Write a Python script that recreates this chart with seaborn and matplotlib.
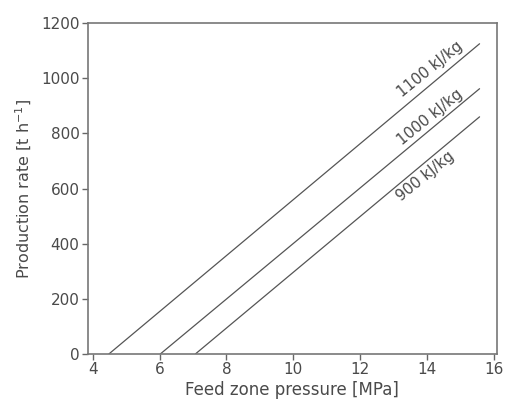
import matplotlib
matplotlib.use("Agg")
import matplotlib.pyplot as plt
import seaborn as sns
import pandas as pd

labels = ["1100 kJ/kg", "1000 kJ/kg", "900 kJ/kg"]
x_1100 = [4.48, 15.58]
y_1100 = [0, 1125]
x_1000 = [6.02, 15.58]
y_1000 = [0, 962]
x_900 = [7.07, 15.58]
y_900 = [0, 860]
label_x = [14.1, 14.1, 13.95]
label_y = [1031, 860, 643]

xticks = [4, 6, 8, 10, 12, 14, 16]
yticks = [0, 200, 400, 600, 800, 1000, 1200]

sns.set_style("ticks")
plt.rcParams["font.family"] = ["DejaVu Sans"]
txt = "#4a4a4a"

rows = []
for lab, xs, ys in zip(labels, [x_1100, x_1000, x_900], [y_1100, y_1000, y_900]):
    for a, b in zip(xs, ys):
        rows.append({"p": a, "q": b, "h": lab})
df = pd.DataFrame(rows)

fig = plt.figure(figsize=(5.05, 4.05), dpi=100)
ax = fig.add_axes([0.174, 0.126, 0.81, 0.817])
sns.lineplot(data=df, x="p", y="q", hue="h", palette=["#555555"] * 3,
             linewidth=0.9, legend=False, ax=ax, sort=False)

for lab, lx, ly in zip(labels, label_x, label_y):
    ax.text(lx, ly, lab, rotation=39, ha="center", va="center",
            fontsize=10.8, color=txt, rotation_mode="anchor")

ax.set_xlim(3.85, 16.1)
ax.set_ylim(0, 1200)
ax.set_xticks(xticks)
ax.set_yticks(yticks)
ax.set_xlabel("Feed zone pressure [MPa]", fontsize=12, color=txt, labelpad=3)
ax.set_ylabel("Production rate [t h$^{-1}$]", fontsize=11.5, color=txt, labelpad=5)
ax.tick_params(labelsize=11, colors="#666666", labelcolor=txt, length=4, width=1, pad=2)
for s in ax.spines.values():
    s.set_color("#777777")
    s.set_linewidth(1.2)
    s.set_visible(True)

fig.savefig("out.png", dpi=100)
